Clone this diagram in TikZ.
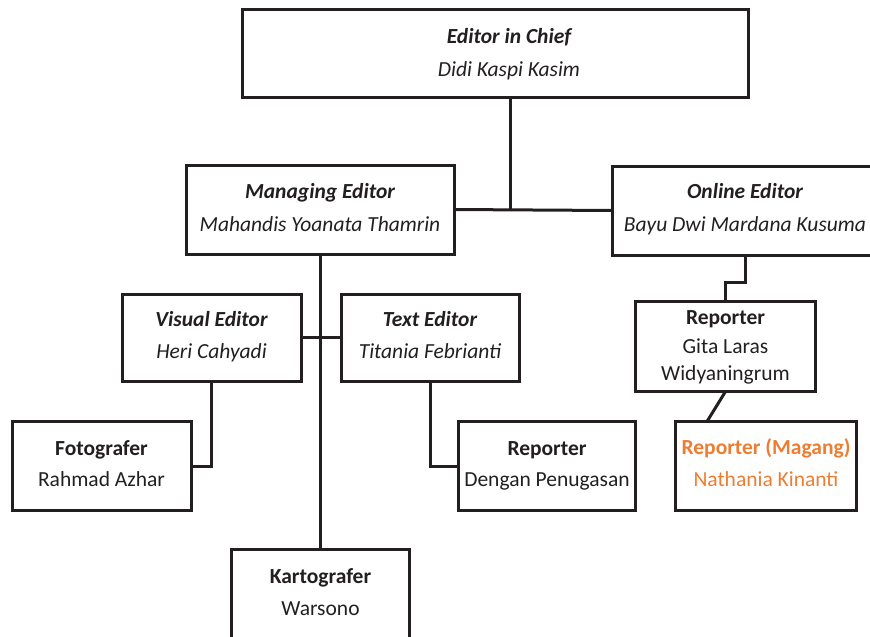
\documentclass[tikz,border=0pt]{standalone}
\usepackage{fontspec}
\setmainfont{Carlito}
\definecolor{ln}{HTML}{231F20}
\definecolor{tx}{HTML}{231F20}
\definecolor{org}{HTML}{ED7D31}
\begin{document}
\begin{tikzpicture}[x=1pt,y=-1pt,
  box/.style={draw=ln,line width=3pt,rectangle,inner sep=0pt,outer sep=0pt},
  wire/.style={draw=ln,line width=3pt},
  lbl/.style={inner sep=0pt,text=tx,font=\fontsize{21.5}{26}\selectfont,text height=15pt,text depth=4pt},
  ttl/.style={lbl,font=\fontsize{21.5}{26}\selectfont\bfseries},
  ttli/.style={lbl,font=\fontsize{21.5}{26}\selectfont\bfseries\itshape},
  nmi/.style={lbl,font=\fontsize{21.5}{26}\selectfont\itshape}]
\useasboundingbox (0,0) rectangle (870,637);
\clip (0,0) rectangle (870,637);
% boxes
\node[box,minimum width=506pt,minimum height=88pt] (eic) at (495,53) {};
\node[box,minimum width=268pt,minimum height=89pt] (man) at (320,209.5) {};
\node[box,minimum width=268pt,minimum height=89pt] (onl) at (746,210.5) {};
\node[box,minimum width=179pt,minimum height=87pt] (vis) at (211.5,337.5) {};
\node[box,minimum width=178pt,minimum height=87pt] (txe) at (430,337.5) {};
\node[box,minimum width=179pt,minimum height=89pt] (foto) at (101.5,466) {};
\node[box,minimum width=177pt,minimum height=89pt] (rep) at (547,466) {};
\node[box,minimum width=180pt,minimum height=90pt] (gita) at (725.5,346.5) {};
\node[box,minimum width=181pt,minimum height=89pt] (mag) at (766,466) {};
\node[box,minimum width=178pt,minimum height=92pt] (kart) at (320.5,595) {};
% texts
\node[ttli] (eic-t) at (509,38) {Editor in Chief};
\node[nmi] (eic-n) at (509,71) {Didi Kaspi Kasim};
\node[ttli] (man-t) at (320,193) {Managing Editor};
\node[nmi] (man-n) at (320,226) {Mahandis Yoanata Thamrin};
\node[ttli] (onl-t) at (745,193) {Online Editor};
\node[nmi] (onl-n) at (745,226) {Bayu Dwi Mardana Kusuma};
\node[ttli] (vis-t) at (211.5,321) {Visual Editor};
\node[nmi] (vis-n) at (211.5,353) {Heri Cahyadi};
\node[ttli] (txe-t) at (430,321) {Text Editor};
\node[nmi] (txe-n) at (430,353) {Titania Febrianti};
\node[ttl] (foto-t) at (101.5,450) {Fotografer};
\node[lbl] (foto-n) at (101.5,481) {Rahmad Azhar};
\node[ttl] (rep-t) at (547,450) {Reporter};
\node[lbl] (rep-n) at (547,481) {Dengan Penugasan};
\node[ttl] (gita-t) at (725.5,319) {Reporter};
\node[lbl] (gita-n1) at (725.5,348) {Gita Laras};
\node[lbl] (gita-n2) at (725.5,375) {Widyaningrum};
\node[ttl,text=org] (mag-t) at (766,449) {Reporter (Magang)};
\node[lbl,text=org] (mag-n) at (766,481) {Nathania Kinanti};
\node[ttl] (kart-t) at (320.5,578) {Kartografer};
\node[lbl] (kart-n) at (320.5,610) {Warsono};
% connectors
\coordinate (j1) at (510,210);
\draw[wire] (eic.south -| j1) -- (j1);
\draw[wire] (man.east) -- (onl.west);
\draw[wire] (kart.north) -- (kart.north |- man.south);
\draw[wire] (vis.east) -- (txe.west);
\draw[wire] (vis.south) |- (foto.east);
\draw[wire] (txe.south) |- (rep.west);
\draw[wire] ([xshift=-1pt]onl.south) -- ++(0,27) -| (gita.north);
\draw[wire] (gita.south) -- ([xshift=-59pt]mag.north);
\end{tikzpicture}
\end{document}
